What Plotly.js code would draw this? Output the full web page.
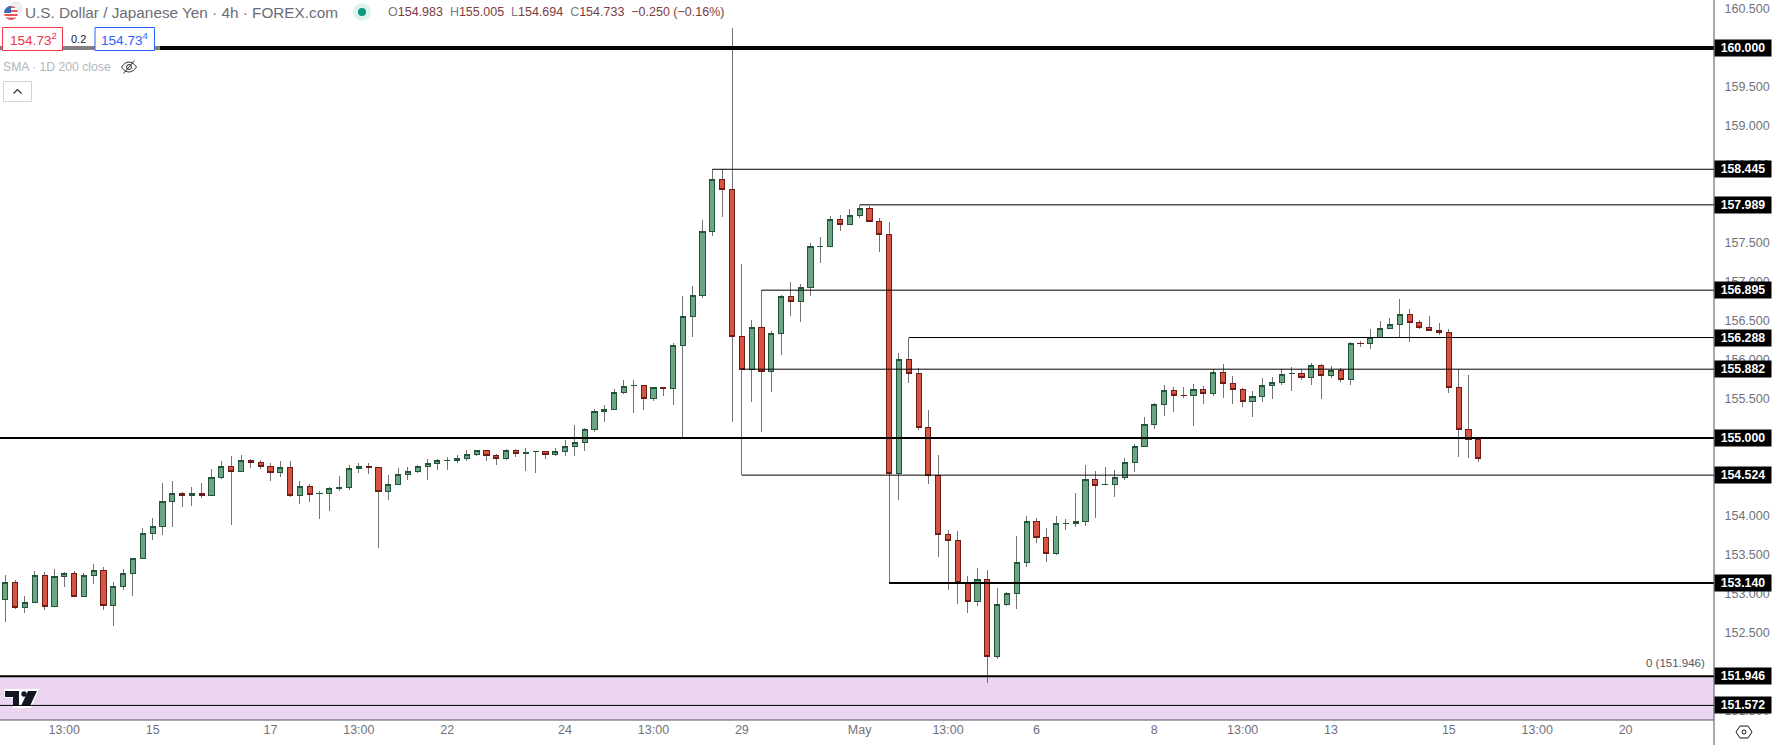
<!DOCTYPE html>
<html><head><meta charset="utf-8">
<script src="https://cdn.plot.ly/plotly-3.0.1.min.js"></script>
<style>html,body{margin:0;padding:0;background:#fff;overflow:hidden}#c{width:1773px;height:745px}#c path.box{shape-rendering:crispEdges}</style>
</head><body><div id="c"></div>
<script>
const openP=[152.931,153.144,152.828,152.892,153.238,152.841,153.226,153.264,152.969,153.238,
153.302,152.854,153.097,153.264,153.456,153.777,153.867,154.187,154.290,154.260,
154.290,154.260,154.495,154.636,154.572,154.713,154.687,154.636,154.559,154.623,
154.260,154.380,154.285,154.290,154.354,154.367,154.606,154.636,154.623,154.315,
154.401,154.529,154.567,154.632,154.670,154.708,154.708,154.738,154.785,154.841,
154.777,154.734,154.841,154.798,154.824,154.828,154.785,154.824,154.888,154.944,
155.106,155.337,155.362,155.580,155.670,155.674,155.508,155.649,155.636,156.187,
156.559,156.829,157.649,158.316,158.188,156.303,155.880,156.418,155.854,156.341,
156.816,156.752,156.931,157.453,157.457,157.803,157.739,157.854,157.944,157.777,
157.611,154.546,156.008,155.828,155.136,154.521,153.764,153.687,153.149,152.905,
153.187,152.200,152.867,153.008,153.405,153.931,153.726,153.520,153.901,153.905,
153.931,154.469,154.401,154.405,154.495,154.687,154.892,155.174,155.431,155.610,
155.547,155.547,155.623,155.572,155.841,155.700,155.623,155.470,155.534,155.675,
155.713,155.824,155.829,155.777,155.931,155.803,155.867,155.751,156.213,156.213,
156.290,156.405,156.457,156.585,156.482,156.418,156.380,156.354,155.649,155.110,154.983];
const closeP=[153.144,152.828,152.888,153.238,152.841,153.226,153.260,152.969,153.238,153.302,
152.854,153.097,153.264,153.456,153.777,153.867,154.187,154.290,154.260,154.290,
154.260,154.495,154.636,154.572,154.713,154.687,154.636,154.559,154.623,154.260,
154.380,154.277,154.290,154.354,154.362,154.610,154.636,154.619,154.315,154.405,
154.533,154.572,154.636,154.674,154.713,154.713,154.738,154.790,154.841,154.773,
154.734,154.841,154.798,154.815,154.828,154.785,154.828,154.892,154.944,155.110,
155.341,155.367,155.585,155.662,155.674,155.508,155.649,155.636,156.187,156.559,
156.829,157.649,158.316,158.188,156.303,155.880,156.418,155.854,156.341,156.816,
156.752,156.931,157.457,157.457,157.803,157.739,157.854,157.944,157.777,157.611,
154.546,156.008,155.828,155.136,154.521,153.764,153.687,153.149,152.905,153.187,
152.200,152.867,153.008,153.405,153.931,153.726,153.520,153.905,153.905,153.931,
154.469,154.392,154.405,154.495,154.687,154.892,155.174,155.431,155.610,155.546,
155.542,155.623,155.572,155.841,155.700,155.623,155.470,155.534,155.675,155.713,
155.816,155.829,155.777,155.931,155.803,155.867,155.752,156.213,156.209,156.290,
156.405,156.457,156.585,156.482,156.418,156.380,156.354,155.649,155.110,154.982,154.733];
const highP=[153.243,153.178,152.969,153.294,153.277,153.320,153.277,153.294,153.268,153.384,
153.345,153.149,153.320,153.456,153.845,153.973,154.422,154.448,154.303,154.371,
154.422,154.602,154.704,154.768,154.781,154.726,154.713,154.679,154.704,154.704,
154.448,154.405,154.320,154.371,154.512,154.653,154.679,154.679,154.623,154.525,
154.614,154.627,154.653,154.730,154.730,154.755,154.781,154.850,154.841,154.841,
154.794,154.858,154.858,154.871,154.828,154.828,154.871,154.978,155.166,155.127,
155.371,155.422,155.627,155.743,155.743,155.674,155.649,155.649,156.213,156.820,
156.948,157.794,158.444,158.444,160.256,157.230,156.508,156.893,156.367,156.829,
156.999,156.970,157.495,157.572,157.841,157.854,157.931,157.983,157.970,157.816,
157.765,156.085,156.277,155.892,155.354,154.777,153.820,153.807,153.225,153.328,
153.302,153.072,153.020,153.743,153.995,153.969,153.841,153.995,153.956,154.290,
154.649,154.572,154.623,154.585,154.739,154.918,155.264,155.444,155.675,155.649,
155.649,155.688,155.662,155.880,155.948,155.790,155.636,155.598,155.764,155.777,
155.880,155.906,155.880,155.957,155.944,155.918,155.893,156.230,156.243,156.392,
156.495,156.538,156.781,156.653,156.508,156.559,156.474,156.392,155.880,155.807,155.005];
const lowP=[152.644,152.811,152.760,152.892,152.798,152.841,153.093,152.969,152.969,153.131,
152.798,152.593,153.055,152.978,153.456,153.696,153.760,153.862,154.119,154.132,
154.234,154.260,154.478,153.888,154.572,154.619,154.606,154.452,154.503,154.247,
154.157,154.183,153.965,154.067,154.324,154.337,154.555,154.542,153.593,154.208,
154.401,154.465,154.555,154.465,154.593,154.593,154.683,154.708,154.773,154.708,
154.657,154.721,154.760,154.580,154.555,154.734,154.773,154.773,154.773,154.837,
155.080,155.209,155.362,155.568,155.324,155.362,155.478,155.542,155.427,154.982,
156.299,156.790,157.594,157.837,155.209,154.521,155.465,155.080,155.593,156.068,
156.568,156.491,156.824,157.247,157.457,157.658,157.739,157.824,157.777,157.388,
153.144,154.209,155.709,155.106,154.414,153.478,153.055,152.875,152.760,152.849,
151.862,152.170,152.849,152.811,153.349,153.657,153.414,153.503,153.824,153.862,
153.875,153.978,154.392,154.247,154.465,154.568,154.892,155.119,155.286,155.337,
155.517,155.158,155.440,155.542,155.517,155.440,155.401,155.273,155.465,155.504,
155.675,155.606,155.747,155.683,155.504,155.773,155.722,155.683,156.170,156.145,
156.290,156.405,156.277,156.234,156.392,156.380,156.315,155.580,154.760,154.747,154.694];
const candleIdx=openP.map((_,i)=>i);
const tickIdx=[6,15,27,36,45,57,66,75,87,96,105,117,126,135,147,156,165];
const tickLabels=['13:00','15','17','13:00','22','24','13:00','29','May','13:00','6','8','13:00','13','15','13:00','20'];
const priceTicks=[160.5,159.5,159,158.5,157.5,157,156.5,156,155.5,154,153.5,153,152.5,151.5];
const levelPrices=[160,158.445,157.989,156.895,156.288,155.882,155,154.524,153.14,151.946,151.572];
const levelStart=[null,72,87,77,92,75,null,75,90,null,null];
const levelWidth=[4,1,1,1,1,1,2,1,2,2,1];
const levelTags=['160.000','158.445','157.989','156.895','156.288','155.882','155.000','154.524','153.140','151.946','151.572'];
const PW=1714,PH=720,XMIN=-0.543,XMAX=174,YMIN=151.385,YMAX=160.615;
const FONT='"Liberation Sans",Arial,sans-serif';
const bodyHigh=openP.map((o,i)=>Math.max(o,closeP[i]));
const bodyLow=openP.map((o,i)=>Math.min(o,closeP[i]));
const wick={type:'candlestick',x:candleIdx,open:openP,high:highP,low:lowP,close:closeP,whiskerwidth:0,hoverinfo:'skip',showlegend:false,
 increasing:{line:{color:'#737375',width:1},fillcolor:'#737375'},decreasing:{line:{color:'#737375',width:1},fillcolor:'#737375'}};
const body={type:'candlestick',x:candleIdx,open:openP,high:bodyHigh,low:bodyLow,close:closeP,whiskerwidth:0,hoverinfo:'skip',showlegend:false,
 increasing:{line:{color:'#225437',width:1},fillcolor:'#6ba583'},decreasing:{line:{color:'#6f1c16',width:1},fillcolor:'#d75442'}};
const px=v=>v/PW, py=v=>1-v/PH;
function pRect(x0,y0,x1,y1,o){return Object.assign({type:'rect',xref:'paper',yref:'paper',x0:px(x0),x1:px(x1),y0:py(y0),y1:py(y1),layer:'above',line:{width:0}},o);}
function txt(x,y,text,size,color,anchor,extra){return Object.assign({xref:'paper',yref:'paper',x:px(x),y:py(y),text,showarrow:false,xanchor:anchor||'left',yanchor:'middle',font:{family:FONT,size,color},borderpad:0,borderwidth:0},extra||{});}
const shapes=[
 {type:'rect',xref:'paper',yref:'y',x0:0,x1:1,y0:YMIN,y1:151.946,fillcolor:'#ebd5f0',line:{width:0},layer:'below'}
];
levelPrices.forEach((p,i)=>{shapes.push({type:'line',xref:'x',yref:'y',x0:levelStart[i]===null?XMIN:levelStart[i],x1:XMAX,y0:p,y1:p,line:{color:'#000',width:levelWidth[i]},layer:'above'});});
shapes.push(
 {type:'line',xref:'paper',yref:'paper',x0:1,x1:1,y0:py(745),y1:1,line:{color:'#50535e',width:1},layer:'above'},
 {type:'line',xref:'paper',yref:'paper',x0:0,x1:1,y0:0,y1:0,line:{color:'#50535e',width:1},layer:'above'},
 pRect(0,27,160,50,{fillcolor:'rgba(255,255,255,0.5)'}),
 pRect(2.5,27.5,62.5,50.5,{fillcolor:'#fff',line:{color:'#f23645',width:1}}),
 pRect(95,27.5,154.5,50.5,{fillcolor:'#fff',line:{color:'#2962ff',width:1}}),
 pRect(3.5,81.5,31.5,101.5,{fillcolor:'rgba(0,0,0,0)',line:{color:'#d1d4dc',width:1}})
);
const annotations=[
 txt(25,12,'U.S. Dollar / Japanese Yen · 4h · FOREX.com',15.3,'#6a6d78'),
 txt(388,12,["O|154.983","H|155.005","L|154.694","C|154.733"].map(s=>{const a=s.split('|');return '<span style="color:#787b86">'+a[0]+'</span>'+a[1];}).join('  ')+'  −0.250 (−0.16%)',12.5,'#7c3d3a'),
 txt(33,39,'154.73<sup>2</sup>',13.6,'#f23645','center'),
 txt(78,39,'0.2',11,'#131722','center'),
 txt(125,39,'154.73<sup>4</sup>',13.6,'#2962ff','center'),
 txt(3,67,'SMA · 1D 200 close',12.2,'#b2b5be'),
 txt(1705,663,'0 (151.946)',11.5,'#555860','right')
];
levelPrices.forEach((p,i)=>annotations.push({xref:'paper',yref:'y',x:1,y:p,xanchor:'left',yanchor:'middle',xshift:0,text:'<b>'+levelTags[i]+'</b>',showarrow:false,width:56,height:16,align:'center',bgcolor:'#000',borderpad:0,font:{family:FONT,size:12.3,color:'#fff'}}));
const svg=s=>'data:image/svg+xml;charset=utf-8,'+encodeURIComponent(s);
function img(x,y,w,h,s){return {source:svg(s),xref:'paper',yref:'paper',x:px(x),y:py(y),sizex:w/PW,sizey:h/PH,xanchor:'left',yanchor:'top',sizing:'stretch',layer:'above'};}
const images=[
 img(2,1,22,21,'<svg xmlns="http://www.w3.org/2000/svg" viewBox="0 0 22 21"><circle cx="14" cy="7" r="6" fill="#f3eef0" stroke="#e3e3e8"/><circle cx="9" cy="12" r="7" fill="#fff"/><clipPath id="k"><circle cx="9" cy="12" r="7"/></clipPath><g clip-path="url(#k)"><rect y="5" width="18" height="2" fill="#e8545a"/><rect y="9" width="18" height="2" fill="#e8545a"/><rect y="13" width="18" height="2" fill="#e8545a"/><rect y="16.5" width="18" height="3" fill="#e8545a"/><rect y="5" width="9" height="7" fill="#3b6fb5"/></g></svg>'),
 img(351,1,22,22,'<svg xmlns="http://www.w3.org/2000/svg" viewBox="0 0 22 22"><circle cx="11" cy="11" r="9" fill="#dff3ee"/><circle cx="11" cy="11" r="4" fill="#089981"/></svg>'),
 img(120,58,18,18,'<svg xmlns="http://www.w3.org/2000/svg" viewBox="0 0 18 18"><path d="M1.5 9C4 5.5 6.5 4 9 4s5 1.5 7.5 5C14 12.5 11.5 14 9 14S4 12.5 1.5 9z" fill="none" stroke="#2a2e39"/><circle cx="9" cy="9" r="2.5" fill="none" stroke="#2a2e39"/><path d="M3.5 15.5L14.5 2.5" stroke="#2a2e39"/></svg>'),
 img(11,87,13,9,'<svg xmlns="http://www.w3.org/2000/svg" viewBox="0 0 13 9"><path d="M2.5 6.5L6.5 2.5L10.5 6.5" fill="none" stroke="#2a2e39" stroke-width="1.2"/></svg>'),
 img(4,689,36,19,'<svg xmlns="http://www.w3.org/2000/svg" viewBox="0 0 36 19"><path d="M0 0H35L27 19H9V9H0Z" fill="#fff"/><path d="M1 2H15V17H9V8H1Z M24 2H33L26 17H17Z" fill="#131722"/><circle cx="20" cy="5" r="2.7" fill="#131722"/></svg>'),
 img(1734,722,20,20,'<svg xmlns="http://www.w3.org/2000/svg" viewBox="0 0 20 20"><path d="M6 4H14L18 10L14 16H6L2 10Z" fill="none" stroke="#131722"/><circle cx="10" cy="10" r="2" fill="none" stroke="#131722"/></svg>')
];
const layout={width:1773,height:745,margin:{l:0,r:59,t:0,b:25,pad:0},paper_bgcolor:'#fff',plot_bgcolor:'#fff',showlegend:false,boxmode:'overlay',boxgap:0.25,
 xaxis:{type:'linear',range:[XMIN,XMAX],tickmode:'array',tickvals:tickIdx,ticktext:tickLabels,showgrid:false,zeroline:false,showline:false,ticks:'',ticklen:0,tickfont:{family:FONT,size:12.5,color:'#6f727c'},rangeslider:{visible:false},fixedrange:true},
 yaxis:{type:'linear',side:'right',range:[YMIN,YMAX],tickmode:'array',tickvals:priceTicks,tickformat:'.3f',showgrid:false,zeroline:false,showline:false,ticks:'outside',ticklen:7,tickcolor:'rgba(0,0,0,0)',tickfont:{family:FONT,size:12.5,color:'#6f727c'},fixedrange:true},
 shapes,annotations,images,hovermode:false};
Plotly.newPlot('c',[wick,body],layout,{displayModeBar:false,staticPlot:true});
</script></body></html>
